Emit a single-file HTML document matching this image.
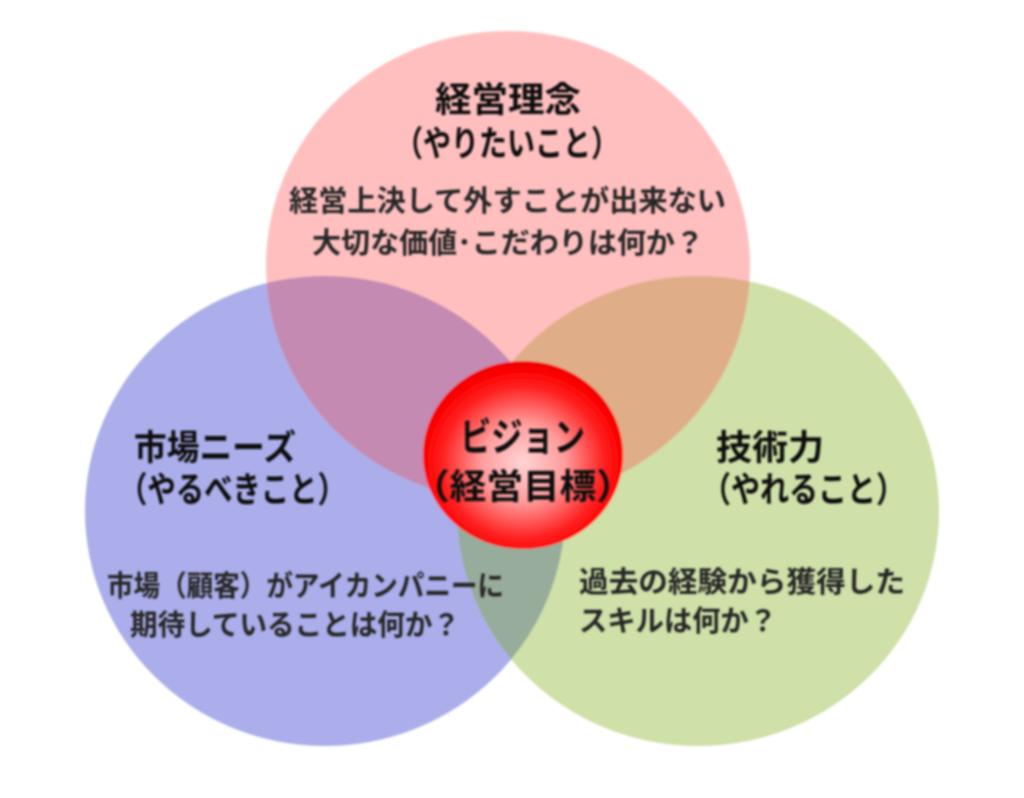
<!DOCTYPE html>
<html lang="ja">
<head>
<meta charset="utf-8">
<style>
html,body{margin:0;padding:0;background:#fff;width:1024px;height:798px;overflow:hidden}
svg{display:block}
text{font-family:"Liberation Sans","Noto Sans CJK JP",sans-serif;fill:#111;font-weight:500}
.h{font-size:35px;font-weight:700}
.b{font-size:29px;font-weight:700;fill:#262626}
</style>
</head>
<body>
<svg width="1024" height="798" viewBox="0 0 1024 798" xmlns="http://www.w3.org/2000/svg">
<defs>
<filter id="s" x="-5%" y="-5%" width="110%" height="110%"><feGaussianBlur stdDeviation="1"/></filter>
<filter id="t" x="-5%" y="-20%" width="110%" height="140%"><feGaussianBlur stdDeviation="1.1"/></filter>
<radialGradient id="r" cx="50%" cy="54%" r="52%">
<stop offset="0" stop-color="#ffd4d4"/>
<stop offset="0.4" stop-color="#ff9c9c"/>
<stop offset="0.78" stop-color="#ff2020"/>
<stop offset="0.95" stop-color="#fd0000"/>
<stop offset="1" stop-color="#f00000"/>
</radialGradient>
<clipPath id="cT"><ellipse cx="508" cy="266" rx="242" ry="235"/></clipPath>
<clipPath id="cL"><ellipse cx="325" cy="511" rx="240" ry="235"/></clipPath>
</defs>
<g filter="url(#s)">
<ellipse cx="325" cy="511" rx="240" ry="235" fill="#abaeea"/>
<ellipse cx="698" cy="511" rx="241" ry="235" fill="#cfe0a8"/>
<ellipse cx="508" cy="266" rx="242" ry="235" fill="#ffbfbf"/>
<g clip-path="url(#cT)"><ellipse cx="325" cy="511" rx="240" ry="235" fill="#c58ab2"/></g>
<g clip-path="url(#cT)"><ellipse cx="698" cy="511" rx="241" ry="235" fill="#dfae88"/></g>
<g clip-path="url(#cL)"><ellipse cx="698" cy="511" rx="241" ry="235" fill="#98ac9c"/></g>
<ellipse cx="523" cy="455" rx="100" ry="94" fill="url(#r)"/>
</g>
<g filter="url(#t)">
<text class="h" x="435" y="112" textLength="146" lengthAdjust="spacingAndGlyphs">経営理念</text>
<text class="h" x="395" y="156" textLength="224" lengthAdjust="spacingAndGlyphs">（やりたいこと）</text>
<text class="b" x="289" y="211" textLength="437" lengthAdjust="spacingAndGlyphs">経営上決して外すことが出来ない</text>
<text class="b" x="312" y="253" textLength="392" lengthAdjust="spacingAndGlyphs">大切な価値･こだわりは何か？</text>
<text class="h" x="134" y="460" textLength="162" lengthAdjust="spacingAndGlyphs">市場ニーズ</text>
<text class="h" x="119" y="502" textLength="227" lengthAdjust="spacingAndGlyphs">（やるべきこと）</text>
<text class="b" x="107" y="596" textLength="397" lengthAdjust="spacingAndGlyphs">市場（顧客）がアイカンパニーに</text>
<text class="b" x="130" y="635" textLength="330" lengthAdjust="spacingAndGlyphs">期待していることは何か？</text>
<text class="h" x="716" y="460" textLength="108" lengthAdjust="spacingAndGlyphs">技術力</text>
<text class="h" x="702" y="502" textLength="203" lengthAdjust="spacingAndGlyphs">（やれること）</text>
<text class="b" x="579" y="592" textLength="326" lengthAdjust="spacingAndGlyphs">過去の経験から獲得した</text>
<text class="b" x="579" y="631" textLength="198" lengthAdjust="spacingAndGlyphs">スキルは何か？</text>
<text class="h" x="460" y="451" textLength="125" lengthAdjust="spacingAndGlyphs" style="font-size:39px">ビジョン</text>
<text class="h" x="413" y="499" textLength="220" lengthAdjust="spacingAndGlyphs">（経営目標）</text>
</g>
</svg>
</body>
</html>
